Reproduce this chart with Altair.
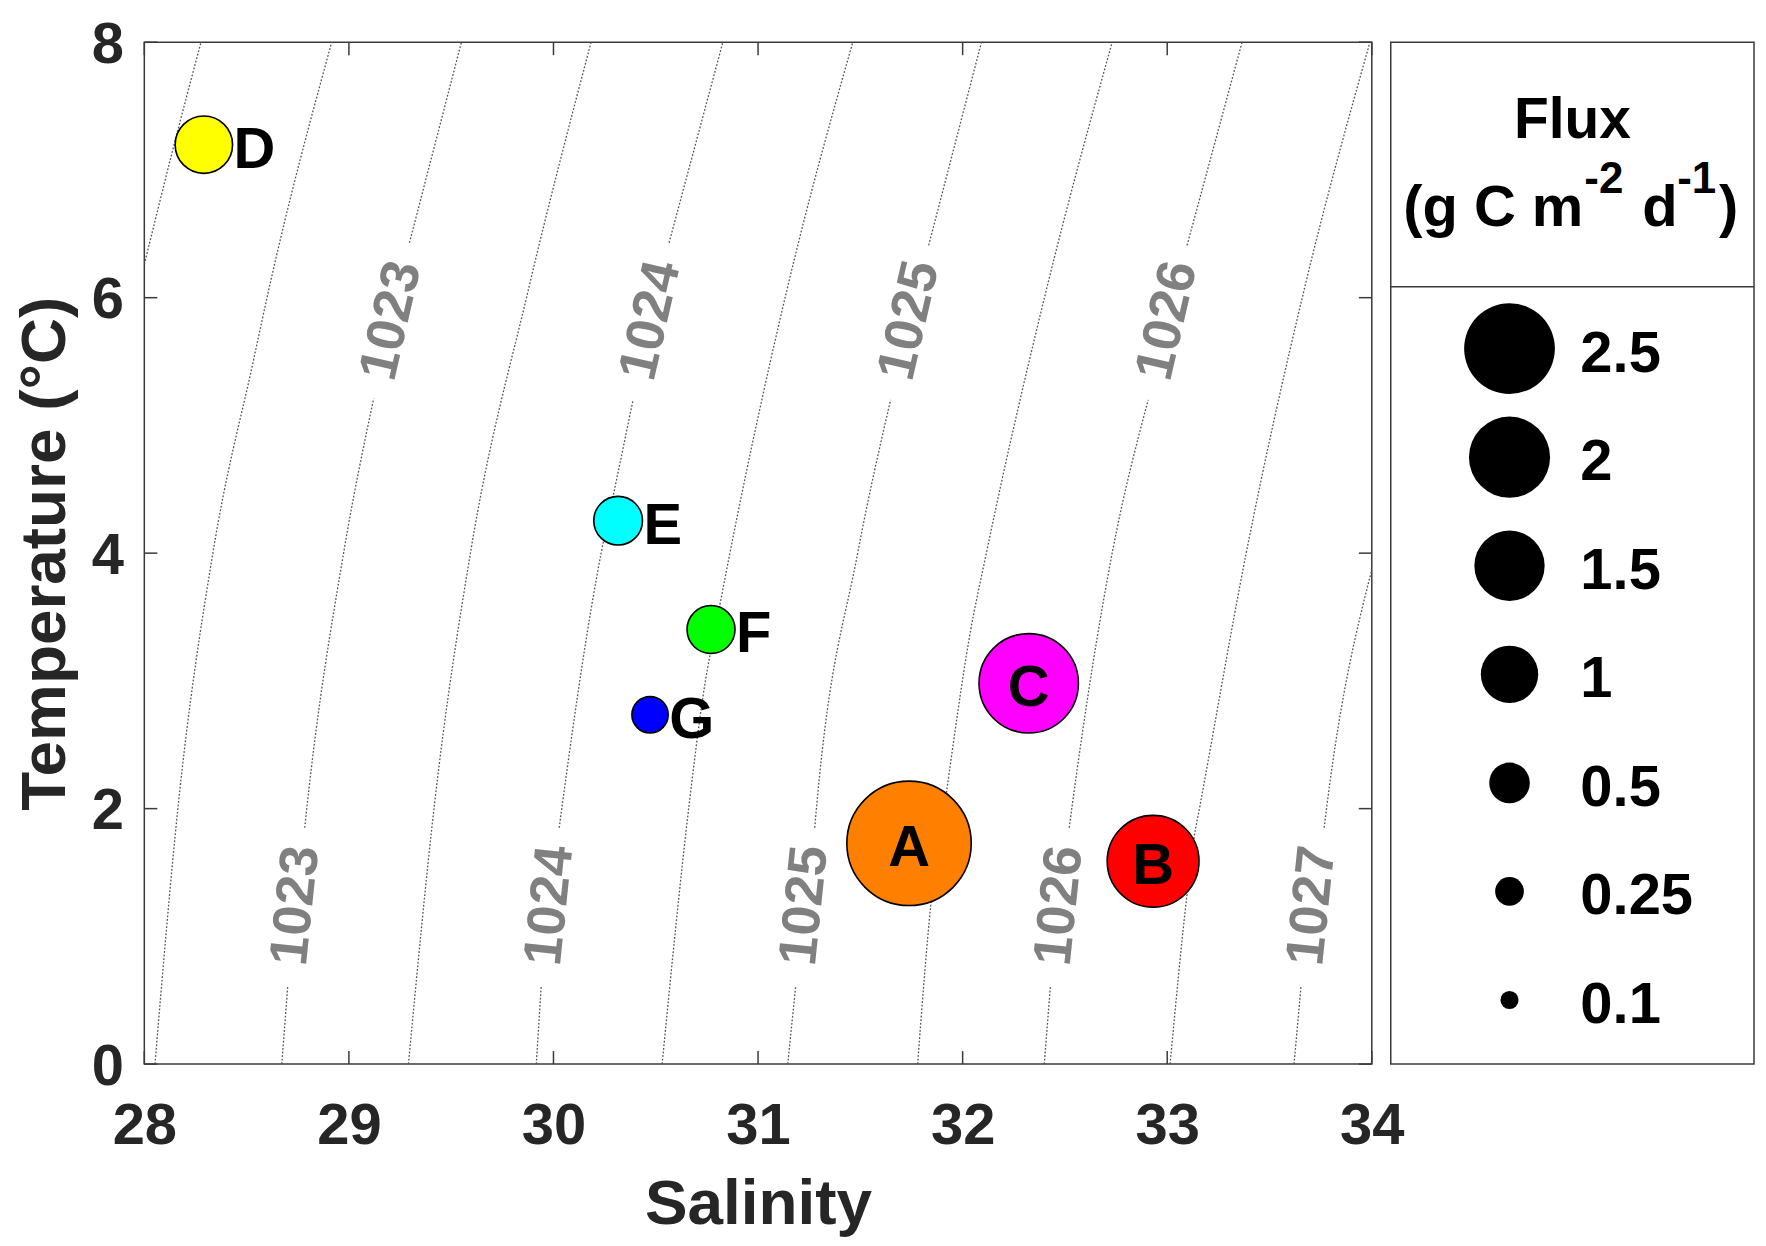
import altair as alt
import pandas as pd

FONT = "Liberation Sans"
INK = "#262626"
BOX = "#3a3a3a"

# ---------------- stations ----------------
station = ["A", "B", "C", "D", "E", "F", "G"]
salinity = [31.738, 32.931, 32.323, 28.291, 30.316, 30.770, 30.472]
temperature = [1.728, 1.588, 2.981, 7.198, 4.254, 3.402, 2.735]
flux = [4.70, 2.56, 3.00, 1.00, 0.72, 0.70, 0.40]
station_colors = ["#FF8000", "#FF0000", "#FF00FF", "#FFFF00", "#00FFFF", "#00FF00", "#0000FF"]
inside_labels = ["A", "B", "C"]
outside_labels = ["D", "E", "F", "G"]

# ---------------- isopycnals (S, T) ----------------
iso_1022_0 = [[(28.000, 6.26), (28.130, 7.10), (28.277, 8.00)]]
iso_1022_5 = [[(28.052, 0.00), (28.164, 2.00), (28.335, 4.00), (28.535, 5.52), (28.608, 6.06), (28.916, 8.00)]]
iso_1023_0 = [[(28.672, 0.00), (28.701, 0.61)],
              [(28.784, 1.85), (28.794, 2.00), (28.974, 4.00), (29.121, 5.21)],
              [(29.296, 6.43), (29.550, 8.00)]]
iso_1023_5 = [[(29.291, 0.00), (29.418, 2.03), (29.594, 4.00), (29.877, 6.06), (30.184, 8.00)]]
iso_1024_0 = [[(29.916, 0.00), (29.940, 0.61)],
              [(30.028, 1.85), (30.043, 2.03), (30.233, 4.00), (30.292, 4.45), (30.389, 5.20)],
              [(30.565, 6.43), (30.828, 8.00)]]
iso_1024_5 = [[(30.531, 0.00), (30.663, 2.03), (30.731, 2.88), (30.814, 3.60), (31.141, 6.06), (31.463, 8.00)]]
iso_1025_0 = [[(31.145, 0.00), (31.184, 0.61)],
              [(31.277, 1.85), (31.287, 2.03), (31.487, 4.00), (31.648, 5.20)],
              [(31.834, 6.41), (32.092, 8.00)]]
iso_1025_5 = [[(31.780, 0.00), (31.844, 1.24), (31.921, 2.13), (32.034, 3.35), (32.116, 4.00), (32.409, 6.06), (32.731, 8.00)]]
iso_1026_0 = [[(32.399, 0.00), (32.429, 0.61)],
              [(32.521, 1.85), (32.536, 2.03), (32.731, 4.00), (32.907, 5.20)],
              [(33.097, 6.41), (33.366, 8.00)]]
iso_1026_5 = [[(33.014, 0.00), (33.097, 1.33), (33.131, 1.77), (33.161, 2.03), (33.386, 4.00), (33.669, 6.06), (33.991, 8.00)]]
iso_1027_0 = [[(33.620, 0.00), (33.654, 0.61)],
              [(33.767, 1.85), (33.781, 2.03), (34.000, 3.87)]]

isopycnals = {
    "1022.0": iso_1022_0, "1022.5": iso_1022_5, "1023.0": iso_1023_0,
    "1023.5": iso_1023_5, "1024.0": iso_1024_0, "1024.5": iso_1024_5,
    "1025.0": iso_1025_0, "1025.5": iso_1025_5, "1026.0": iso_1026_0,
    "1026.5": iso_1026_5, "1027.0": iso_1027_0,
}

# contour labels
low_label_text = ["1023", "1024", "1025", "1026", "1027"]
low_label_S = [28.742, 29.984, 31.230, 32.475, 33.710]
low_label_T = [1.24, 1.24, 1.24, 1.24, 1.24]
high_label_text = ["1023", "1024", "1025", "1026"]
high_label_S = [29.209, 30.477, 31.741, 33.002]
high_label_T = [5.82, 5.82, 5.82, 5.82]

# axes
x_ticks = [28, 29, 30, 31, 32, 33, 34]
y_ticks = [0, 2, 4, 6, 8]

# legend
legend_flux = [2.5, 2, 1.5, 1, 0.5, 0.25, 0.1]
legend_text = ["2.5", "2", "1.5", "1", "0.5", "0.25", "0.1"]

# ---------------- tables ----------------
rows = []
for rho, segs in isopycnals.items():
    for k, seg in enumerate(segs):
        for s, t in seg:
            rows.append({"rho": rho, "seg": f"{rho}-{k}", "S": s, "T": t})
iso_df = pd.DataFrame(rows)

pt_df = pd.DataFrame({"name": station, "S": salinity, "T": temperature, "flux": flux})
low_df = pd.DataFrame({"lab": low_label_text, "S": low_label_S, "T": low_label_T})
high_df = pd.DataFrame({"lab": high_label_text, "S": high_label_S, "T": high_label_T})
xt_df = pd.DataFrame({"v": x_ticks})
yt_df = pd.DataFrame({"v": y_ticks})
leg_df = pd.DataFrame({"flux": legend_flux, "label": legend_text, "idx": list(range(len(legend_flux)))})

W, H = 1230, 1024
LW = 364
TICK = 13
AREA_PER_UNIT = 3306.0  # symbol area (px^2) per unit of flux

xs = alt.Scale(domain=[28, 34], nice=False, zero=False)
ys = alt.Scale(domain=[0, 8], nice=False, zero=False)
size_scale = alt.Scale(type="linear", domain=[0, 5], range=[0, 5 * AREA_PER_UNIT], zero=True)

x_axis = alt.Axis(
    title="Salinity", values=x_ticks, format="d", grid=False, ticks=False, domain=False,
    labelFont=FONT, labelFontSize=58, labelFontWeight="bold", labelColor=INK,
    labelPadding=80, labelBaseline="alphabetic", labelFlush=False, labelOverlap=False,
    titleFont=FONT, titleFontSize=64, titleFontWeight="bold", titleColor=INK,
    titleY=160, titleBaseline="alphabetic",
)
y_axis = alt.Axis(
    title="Temperature (°C)", values=y_ticks, format="d", grid=False, ticks=False, domain=False,
    labelFont=FONT, labelFontSize=58, labelFontWeight="bold", labelColor=INK,
    labelPadding=21, labelOffset=3, labelFlush=False, labelOverlap=False,
    titleFont=FONT, titleFontSize=64, titleFontWeight="bold", titleColor=INK,
    titleX=-80, titleAngle=270, titleBaseline="alphabetic", titleAlign="center",
)

lines = alt.Chart(iso_df).mark_line(
    color="#555555", strokeWidth=1.3, strokeDash=[1.8, 1.8], interpolate="monotone", clip=True
).encode(
    x=alt.X("S:Q", scale=xs, axis=x_axis),
    y=alt.Y("T:Q", scale=ys, axis=y_axis),
    detail="seg:N",
)

label_style = dict(font=FONT, fontSize=54, fontWeight="bold", color="#808080",
                   align="center", baseline="middle")
low_labels = alt.Chart(low_df).mark_text(angle=276, **label_style).encode(
    x=alt.X("S:Q", scale=xs), y=alt.Y("T:Q", scale=ys), text="lab:N")
high_labels = alt.Chart(high_df).mark_text(angle=283, **label_style).encode(
    x=alt.X("S:Q", scale=xs), y=alt.Y("T:Q", scale=ys), text="lab:N")

points = alt.Chart(pt_df).mark_circle(opacity=1, stroke="black", strokeWidth=1.6).encode(
    x=alt.X("S:Q", scale=xs),
    y=alt.Y("T:Q", scale=ys),
    size=alt.Size("flux:Q", scale=size_scale, legend=None),
    color=alt.Color("name:N", scale=alt.Scale(domain=station, range=station_colors), legend=None),
)

letter_style = dict(font=FONT, fontSize=58, fontWeight="bold", color="black", baseline="middle", dy=6)
inside = alt.Chart(pt_df).transform_filter(
    alt.FieldOneOfPredicate(field="name", oneOf=inside_labels)
).mark_text(align="center", **letter_style).encode(
    x=alt.X("S:Q", scale=xs), y=alt.Y("T:Q", scale=ys), text="name:N")

outside_layers = []
for nm in outside_labels:
    f = flux[station.index(nm)]
    r = (AREA_PER_UNIT * f) ** 0.5 / 2
    outside_layers.append(
        alt.Chart(pt_df).transform_filter(alt.datum.name == nm).mark_text(
            align="left", dx=r + 1, **letter_style
        ).encode(x=alt.X("S:Q", scale=xs), y=alt.Y("T:Q", scale=ys), text="name:N")
    )

tick_style = dict(color=BOX, strokeWidth=1.5)
t_bottom = alt.Chart(xt_df).mark_rule(**tick_style).encode(
    x=alt.X("v:Q", scale=xs), y=alt.value(H), y2=alt.value(H - TICK))
t_top = alt.Chart(xt_df).mark_rule(**tick_style).encode(
    x=alt.X("v:Q", scale=xs), y=alt.value(0), y2=alt.value(TICK))
t_left = alt.Chart(yt_df).mark_rule(**tick_style).encode(
    y=alt.Y("v:Q", scale=ys), x=alt.value(0), x2=alt.value(TICK))
t_right = alt.Chart(yt_df).mark_rule(**tick_style).encode(
    y=alt.Y("v:Q", scale=ys), x=alt.value(W), x2=alt.value(W - TICK))

main = alt.layer(
    lines, low_labels, high_labels, points, inside, *outside_layers,
    t_bottom, t_top, t_left, t_right
).properties(width=W, height=H)

# ---------------- legend panel ----------------
# row index -> pixel row (rows ~109 px apart, first row ~307 px below the panel top)
yl = alt.Scale(domain=[6.590, -2.822], nice=False, zero=False)
one = pd.DataFrame({"k": [0]})

leg_circles = alt.Chart(leg_df).mark_circle(color="black", opacity=1).encode(
    x=alt.value(119),
    y=alt.Y("idx:Q", scale=yl, axis=None),
    size=alt.Size("flux:Q", scale=size_scale, legend=None),
)
leg_labels = alt.Chart(leg_df).mark_text(
    align="left", baseline="middle", dy=6, font=FONT, fontSize=58, fontWeight="bold", color="black"
).encode(x=alt.value(190), y=alt.Y("idx:Q", scale=yl, axis=None), text="label:N")

def piece(txt, x, y, size, align="left"):
    return alt.Chart(one).mark_text(
        align=align, baseline="alphabetic", font=FONT, fontSize=size, fontWeight="bold", color="black"
    ).encode(x=alt.value(x), y=alt.value(y), text=alt.value(txt))

title_layers = [
    piece("Flux", LW / 2, 96, 57, align="center"),
    piece("(g C m", 12.5, 184, 58),
    piece("-2", 194, 151, 44),
    piece("d", 252, 184, 58),
    piece("-1", 287, 151, 44),
    piece(")", 329, 184, 58),
]
divider = alt.Chart(one).mark_rule(color=BOX, strokeWidth=1.5).encode(
    x=alt.value(0), x2=alt.value(LW), y=alt.value(245))

legend_panel = alt.layer(leg_circles, leg_labels, divider, *title_layers).properties(width=LW, height=H)

chart = alt.hconcat(main, legend_panel, spacing=19, bounds="flush").resolve_scale(
    x="independent", y="independent", size="independent", color="independent"
).properties(
    padding={"left": 4.6, "top": 6, "right": 2, "bottom": 2},
    background="white",
).configure_view(stroke=BOX, strokeWidth=1.5)

chart.save("out.html", embed_options={"renderer": "svg", "actions": False})
